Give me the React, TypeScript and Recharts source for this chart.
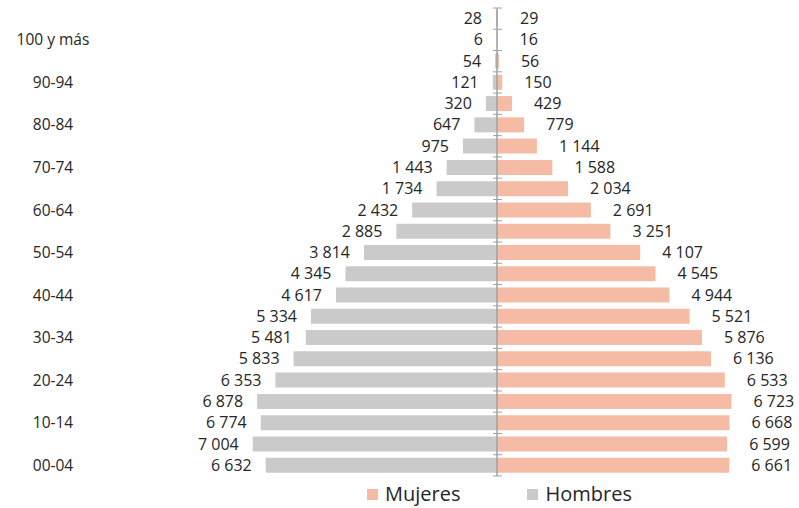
import { BarChart, Bar, XAxis, YAxis, LabelList, ReferenceLine } from "recharts";

// bottom (00-04) to top; the top row carries no label in the original
const AGES = [
  "00-04", "05-09", "10-14", "15-19", "20-24", "25-29", "30-34", "35-39",
  "40-44", "45-49", "50-54", "55-59", "60-64", "65-69", "70-74", "75-79",
  "80-84", "85-89", "90-94", "95-99", "100 y más", "No consta",
];
const HOMBRES = [
  6632, 7004, 6774, 6878, 6353, 5833, 5481, 5334, 4617, 4345, 3814, 2885,
  2432, 1734, 1443, 975, 647, 320, 121, 54, 6, 28,
];
const MUJERES = [
  6661, 6599, 6668, 6723, 6533, 6136, 5876, 5521, 4944, 4545, 4107, 3251,
  2691, 2034, 1588, 1144, 779, 429, 150, 56, 16, 29,
];
const X_DOMAIN = [-8000, 8000];

const C_MUJ = "#F5BBA5";
const C_HOM = "#CACACA";
const C_TXT = "#262626";
const FONT = "'Open Sans', 'Noto Sans', sans-serif";

const data = AGES.map((edad, i) => ({
  edad,
  hombres: -HOMBRES[i],
  mujeres: MUJERES[i],
}));

const fmt = (n: number) =>
  String(Math.abs(n)).replace(/\B(?=(\d{3})+(?!\d))/g, " ");

function AgeTick(props: any) {
  const { y, payload } = props;
  return (
    <text x={53} y={y} dy="0.35em" textAnchor="middle" fill={C_TXT} fontSize={15.5} fontFamily={FONT}>
      {payload.value}
    </text>
  );
}

function MenLabel(props: any) {
  const { x, y, width, height, value } = props;
  const left = Math.min(x, x + width);
  return (
    <text x={left - 14} y={y + height / 2} dy="0.35em" textAnchor="end" fill={C_TXT} fontSize={16} fontFamily={FONT}>
      {fmt(value)}
    </text>
  );
}

function WomenLabel(props: any) {
  const { x, y, width, height, value } = props;
  const right = Math.max(x, x + width);
  return (
    <text x={right + 22} y={y + height / 2} dy="0.35em" textAnchor="start" fill={C_TXT} fontSize={16} fontFamily={FONT}>
      {fmt(value)}
    </text>
  );
}

function CenterAxis(props: any) {
  const { x1, y1, y2 } = props;
  const n = AGES.length;
  const marks = [];
  for (let i = 0; i <= n; i++) {
    const yy = y1 + ((y2 - y1) * i) / n;
    marks.push(<line key={i} x1={x1 - 4} x2={x1 + 5} y1={yy} y2={yy} stroke="#A0A0A0" strokeWidth={1} />);
  }
  return (
    <g>
      <line x1={x1} x2={x1} y1={y1} y2={y2} stroke="#A0A0A0" strokeWidth={1.5} />
      {marks}
    </g>
  );
}

function LegendItem({ color, label }: { color: string; label: string }) {
  return (
    <div style={{ display: "flex", alignItems: "center" }}>
      <span style={{ width: 11, height: 11, background: color, marginRight: 7, display: "inline-block" }} />
      <span>{label}</span>
    </div>
  );
}

export default function App() {
  return (
    <div style={{ position: "relative", width: 799, height: 508, fontFamily: FONT, color: C_TXT, background: "#fff" }}>
      <style>{"body{margin:0}"}</style>
      <BarChart
        width={799}
        height={478}
        data={data}
        layout="vertical"
        stackOffset="sign"
        barCategoryGap="14%"
        margin={{ top: 8, right: 23, bottom: 2, left: 0 }}
      >
        <XAxis type="number" domain={X_DOMAIN} hide />
        <YAxis
          type="category"
          dataKey="edad"
          reversed
          interval={1}
          width={218}
          axisLine={false}
          tickLine={false}
          tick={<AgeTick />}
        />
        <Bar dataKey="hombres" stackId="p" fill={C_HOM} isAnimationActive={false}>
          <LabelList dataKey="hombres" content={<MenLabel />} />
        </Bar>
        <Bar dataKey="mujeres" stackId="p" fill={C_MUJ} isAnimationActive={false}>
          <LabelList dataKey="mujeres" content={<WomenLabel />} />
        </Bar>
        <ReferenceLine x={0} shape={<CenterAxis />} />
      </BarChart>
      <div
        style={{
          position: "absolute",
          top: 484,
          left: 367,
          height: 20,
          display: "flex",
          alignItems: "center",
          fontSize: 20,
          lineHeight: "20px",
          gap: 67,
        }}
      >
        <LegendItem color={C_MUJ} label="Mujeres" />
        <LegendItem color={C_HOM} label="Hombres" />
      </div>
    </div>
  );
}
